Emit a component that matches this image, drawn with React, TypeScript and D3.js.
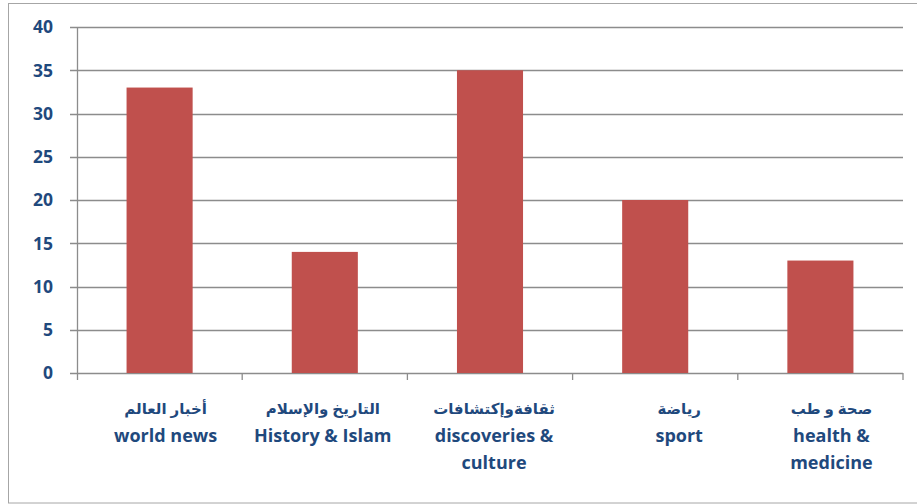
import React from "react";
import * as d3 from "d3";

const categoriesAr = ["أخبار العالم", "التاريخ والإسلام", "ثقافةوإكتشافات", "رياضة", "صحة و طب"];
const categoriesEn = [["world news"], ["History & Islam"], ["discoveries &", "culture"], ["sport"], ["health &", "medicine"]];
const values = [33, 14, 35, 20, 13];
const yTicks = [0, 5, 10, 15, 20, 25, 30, 35, 40];
// small label nudges seen in the reference (layout only)
const labelNudge = [6, -2, 4, 24, 11];

const W = 917;
const H = 504;
const M = { left: 77, right: 14, top: 27, bottom: 131 };

export default function App() {
  const x = d3
    .scaleBand<number>()
    .domain(values.map((_, i) => i))
    .range([M.left, W - M.right])
    .paddingInner(0.6)
    .paddingOuter(0.3);
  const y = d3.scaleLinear().domain([0, 40]).range([H - M.bottom, M.top]);
  const step = x.step();
  const textColor = "#1F497D";
  const gridColor = "#8C8C8C";
  const font = "'Open Sans', 'DejaVu Sans', sans-serif";
  const boundaries = d3.range(values.length + 1).map((i) => M.left + i * step);

  return (
    <svg
      width={W}
      height={H}
      style={{ position: "absolute", left: 0, top: 0, background: "#fff" }}
    >
      <rect x={8.5} y={3.5} width={W} height={H - 4.5} fill="#fff" stroke="#A6A6A6" strokeWidth={1} />
      {yTicks.map((t) => (
        <g key={t}>
          <line
            x1={M.left - 7}
            x2={W - M.right}
            y1={Math.round(y(t)) + 0.5}
            y2={Math.round(y(t)) + 0.5}
            stroke={gridColor}
            strokeWidth={1.3}
          />
          <text
            x={53}
            y={y(t)}
            dy="0.36em"
            textAnchor="end"
            fill={textColor}
            fontFamily={font}
            fontWeight="bold"
            fontSize={17.5}
          >
            {t}
          </text>
        </g>
      ))}
      {values.map((v, i) => (
        <rect
          key={i}
          x={x(i)}
          y={y(v)}
          width={x.bandwidth()}
          height={y(0) - y(v)}
          fill="#C0504D"
        />
      ))}
      <line x1={M.left + 0.5} x2={M.left + 0.5} y1={M.top} y2={y(0) + 7} stroke={gridColor} strokeWidth={1.3} />
      {boundaries.slice(1).map((b, i) => (
        <line key={i} x1={b} x2={b} y1={y(0)} y2={y(0) + 7} stroke={gridColor} strokeWidth={1.3} />
      ))}
      {values.map((_, i) => {
        const cx = (x(i) as number) + x.bandwidth() / 2 + labelNudge[i];
        return (
          <g key={i} fill={textColor} fontFamily={font} fontWeight="bold" textAnchor="middle">
            <text x={cx} y={414} fontSize={15} direction="rtl" style={{ unicodeBidi: "plaintext" } as any} textAnchor="middle">
              {categoriesAr[i]}
            </text>
            {categoriesEn[i].map((line, j) => (
              <text key={j} x={cx} y={442 + j * 27} fontSize={18}>
                {line}
              </text>
            ))}
          </g>
        );
      })}
    </svg>
  );
}
